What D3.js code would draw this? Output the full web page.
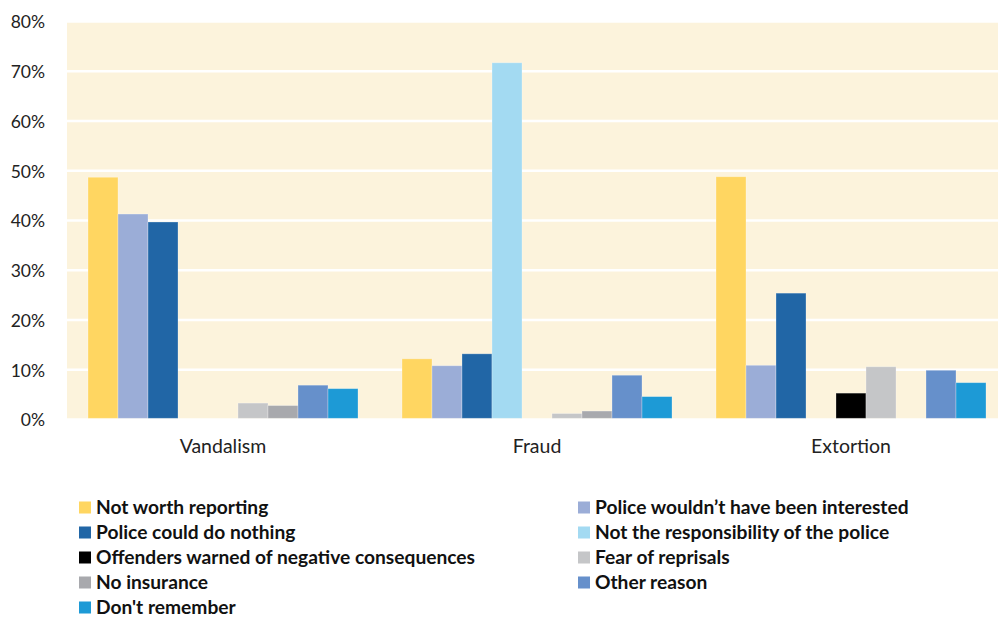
<!DOCTYPE html>
<html>
<head>
<meta charset="utf-8">
<script src="https://cdn.jsdelivr.net/npm/d3@7"></script>
<style>
  html, body { margin: 0; padding: 0; background: #ffffff; }
  svg { display: block; }
</style>
</head>
<body>
<svg id="chart" width="998" height="617"></svg>
<script>
// ---- data ----
const categories = ["Vandalism", "Fraud", "Extortion"];
const seriesNames = [
  "Not worth reporting",
  "Police wouldn\u2019t have been interested",
  "Police could do nothing",
  "Not the responsibility of the police",
  "Offenders warned of negative consequences",
  "Fear of reprisals",
  "No insurance",
  "Other reason",
  "Don't remember"
];
const seriesColors = ["#FFD661", "#9BADD7", "#2166A6", "#A3DAF2", "#000000", "#C5C6C8", "#A8A9AD", "#6690CB", "#1D9AD6"];
// values in percent, per series: [Vandalism, Fraud, Extortion]
const notWorth       = [48.7, 12.2, 48.8];
const policeNotInt   = [41.3, 10.8, 10.9];
const policeNothing  = [39.7, 13.2, 25.4];
const notResp        = [0, 71.7, 0];
const offWarned      = [0, 0, 5.3];
const fearReprisals  = [3.3, 1.2, 10.6];
const noInsurance    = [2.8, 1.7, 0];
const otherReason    = [6.9, 8.9, 9.9];
const dontRemember   = [6.2, 4.6, 7.4];
const seriesValues = [notWorth, policeNotInt, policeNothing, notResp, offWarned, fearReprisals, noInsurance, otherReason, dontRemember];
const yTicks = [0, 10, 20, 30, 40, 50, 60, 70, 80];

// ---- layout ----
const svg = d3.select("#chart");
const plotLeft = 67, plotRight = 998, yTop = 21.5, yBottom = 419.5;
const font = "Lato, 'Liberation Sans', sans-serif";

const y = d3.scaleLinear().domain([0, 80]).range([yBottom, yTop]);
const x0 = d3.scaleBand().domain(categories).range([66, 1008]).paddingInner(0).paddingOuter(0);
const x1 = d3.scaleBand().domain(d3.range(seriesNames.length))
  .range([22, x0.bandwidth() - 22]).padding(0);

// background
svg.append("rect")
  .attr("x", plotLeft).attr("y", y(80))
  .attr("width", plotRight - plotLeft).attr("height", y(0) - y(80))
  .attr("fill", "#FCF3DC");

// gridlines
svg.append("g").selectAll("line").data(yTicks).join("line")
  .attr("x1", plotLeft).attr("x2", plotRight)
  .attr("y1", d => y(d)).attr("y2", d => y(d))
  .attr("stroke", "#ffffff").attr("stroke-width", 2.5);

// bars
const groups = svg.append("g").selectAll("g").data(categories).join("g")
  .attr("transform", d => `translate(${x0(d)},0)`);
groups.selectAll("rect")
  .data((c, ci) => seriesValues.map((vals, si) => ({ si, v: vals[ci] })).filter(d => d.v > 0))
  .join("rect")
  .attr("x", d => x1(d.si))
  .attr("width", x1.bandwidth())
  .attr("y", d => y(d.v))
  .attr("height", d => y(0) - y(d.v) - 1.2)
  .attr("fill", d => seriesColors[d.si])
  .attr("stroke", "rgba(255,255,255,0.35)")
  .attr("stroke-width", 0.8);

// y axis labels
const yAxis = d3.axisLeft(y).tickValues(yTicks).tickFormat(d => d + "%").tickSize(0).tickPadding(0);
const yg = svg.append("g").attr("transform", "translate(45,0)").call(yAxis);
yg.select(".domain").remove();
yg.selectAll("text").attr("font-family", font).attr("font-size", 17.5).attr("fill", "#222").attr("dy", "0.36em");

// x axis labels
const xAxis = d3.axisBottom(x0).tickSize(0).tickPadding(0);
const xg = svg.append("g").attr("transform", `translate(0,${yBottom})`).call(xAxis);
xg.select(".domain").remove();
xg.selectAll("text").attr("font-family", font).attr("font-size", 19.5).attr("fill", "#222").attr("dy", 0).attr("y", 33.5);

// legend
const legendX = [79, 578];
const legendY0 = 507.5, legendStep = 25;
const legend = svg.append("g").selectAll("g").data(seriesNames).join("g")
  .attr("transform", (d, i) => `translate(${legendX[i % 2]},${legendY0 + Math.floor(i / 2) * legendStep})`);
legend.append("rect").attr("x", 0).attr("y", -6).attr("width", 12).attr("height", 12)
  .attr("fill", (d, i) => seriesColors[i]);
legend.append("text").attr("x", 17).attr("y", 0).attr("dy", "0.34em")
  .attr("font-family", font).attr("font-weight", "bold").attr("font-size", 19.2).attr("fill", "#111")
  .text(d => d);
</script>
</body>
</html>
